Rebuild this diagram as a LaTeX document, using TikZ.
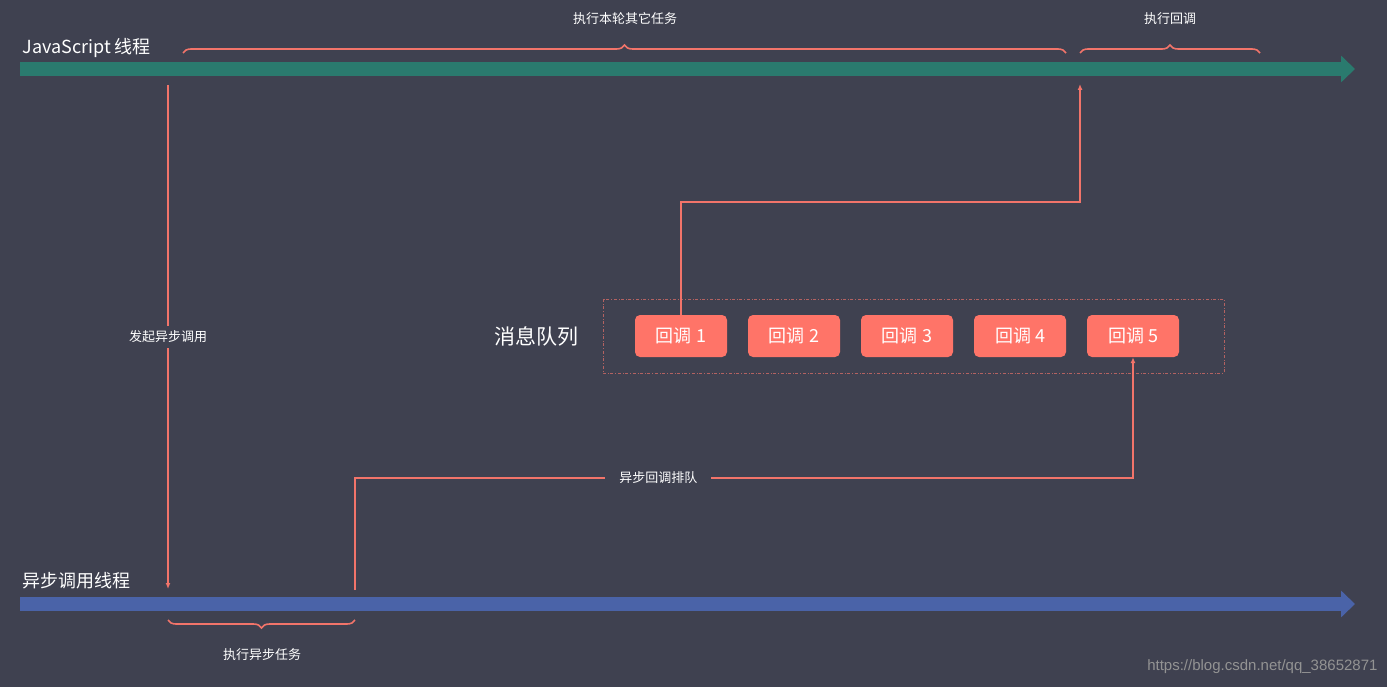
\documentclass[tikz,border=0pt]{standalone}
\usepackage{fontspec}
\setmainfont{Noto Sans CJK SC}
\setsansfont{Liberation Sans}
\usetikzlibrary{arrows.meta,decorations.pathreplacing}
\definecolor{bg}{HTML}{3F4150}
\definecolor{red}{HTML}{F2746A}
\definecolor{cb}{HTML}{FF7468}
\definecolor{jsg}{HTML}{2A7A6E}
\definecolor{asb}{HTML}{4A63A8}
\tikzset{
  lane/.style={line width=14pt,-{Triangle[length=14pt,width=26pt]}},
  conn/.style={draw=red,line width=1.6pt,-{Latex[length=6pt,width=5pt]}},
  brc/.style={draw=red,line width=1.6pt,decorate,decoration={brace,amplitude=8pt}},
  lbl/.style={text=white,font=\fontsize{13}{15}\selectfont},
  cbox/.style={fill=cb,rounded corners=5pt,minimum width=92pt,minimum height=42pt,text=white,font=\fontsize{18}{20}\selectfont},
}
\begin{document}
\begin{tikzpicture}[x=1pt,y=-1pt]
\fill[bg] (0,0) rectangle (1387,687);
\useasboundingbox (0,0) rectangle (1387,687);
% lanes
\coordinate (js0) at (20,69); \coordinate (js1) at (1355,69);
\coordinate (as0) at (20,604); \coordinate (as1) at (1355,604);
\draw[lane,jsg] (js0) -- (js1);
\draw[lane,asb] (as0) -- (as1);
\node[lbl,anchor=west,font=\fontsize{18}{20}\selectfont] (jsl) at (19,48) {JavaScript 线程};
\node[lbl,anchor=west,font=\fontsize{18}{20}\selectfont] (asl) at (19,581) {异步调用线程};
% braces
\coordinate (b1a) at (183,53); \coordinate (b1b) at (1066,53);
\coordinate (b2a) at (1080,53); \coordinate (b2b) at (1260,53);
\coordinate (b3a) at (355,620); \coordinate (b3b) at (168,620);
\draw[brc] (b1a) -- (b1b);
\draw[brc] (b2a) -- (b2b);
\draw[brc] (b3a) -- (b3b);
\node[lbl] (t1) at (625,19) {执行本轮其它任务};
\node[lbl] (t2) at (1170,19) {执行回调};
\node[lbl] (t3) at (262,655) {执行异步任务};
% queue
\draw[red!65!bg,dash dot,line width=1pt] (603,299) rectangle (1224,373);
\node[text=white,font=\fontsize{21}{23}\selectfont] (mq) at (536,336) {消息队列};
\foreach \i/\x in {1/681,2/794,3/907,4/1020,5/1133}
  \node[cbox] (c\i) at (\x,336) {回调 \i};
% connectors
\coordinate (s1) at (168,85); \coordinate (e1) at (168,589);
\draw[conn] (s1) -- node[fill=bg,lbl,inner sep=5pt] (l1) {发起异步调用} (e1);
\coordinate (s2) at (355,590);
\draw[conn] (s2) |- node[pos=0.695,fill=bg,lbl,inner xsep=14pt] (l2) {异步回调排队} (1133,478) -- (c5.south);
\coordinate (e3) at (1080,84);
\draw[conn] (c1.north) |- (1080,202) -- (e3);
\node[text=gray!85,font=\fontsize{15}{17}\selectfont\sffamily,anchor=east] (wm) at (1381,667) {https://blog.csdn.net/qq\_38652871};
\end{tikzpicture}
\end{document}
